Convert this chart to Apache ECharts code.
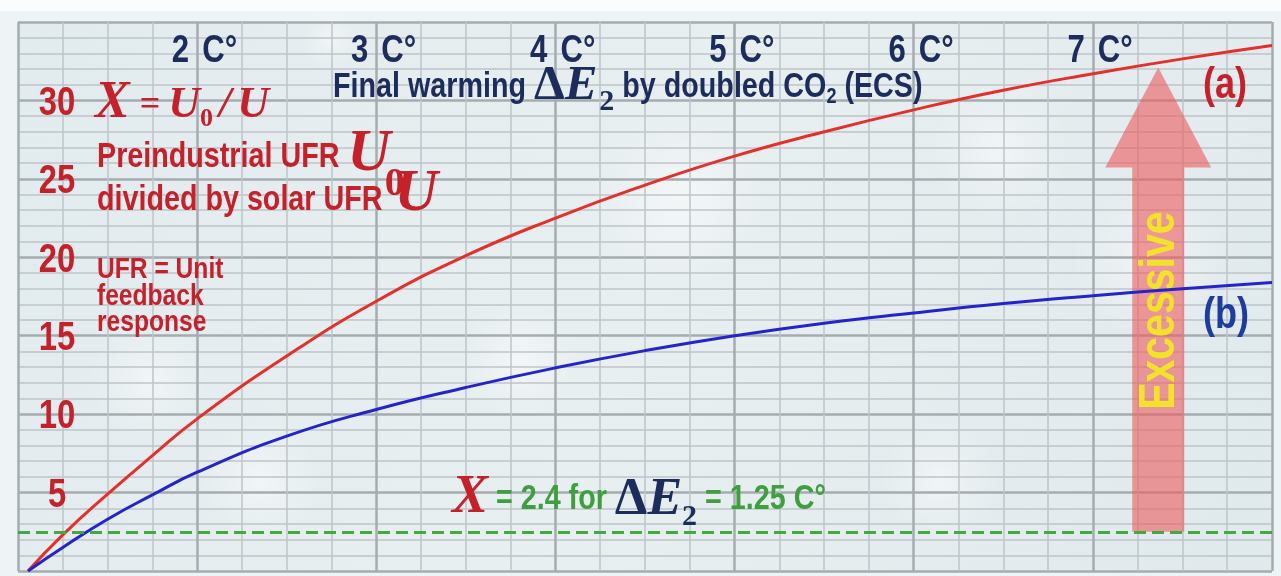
<!DOCTYPE html>
<html><head><meta charset="utf-8">
<script src="https://cdn.jsdelivr.net/npm/echarts@6/dist/echarts.min.js"></script>
<style>html,body{margin:0;padding:0;background:#eef4f5;}#c{width:1281px;height:576px;}</style>
</head><body><div id="c"></div>
<script>
// ---- data ----
const xTicks = [2, 3, 4, 5, 6, 7];          // top tick labels (C°)
const xUnit = 'C°';
const yTicks = [5, 10, 15, 20, 25, 30];     // left tick labels
const ecs = [1.056, 1.25, 1.5, 1.75, 2, 2.5, 3, 3.5, 4, 4.5, 5, 5.5, 6, 6.5, 7, 7.5, 8];
const curveA = [0, 2.3, 4.9, 7.35, 9.7, 13.7, 17.2, 20.1, 22.5, 24.6, 26.45, 28.0, 29.4, 30.65, 31.7, 32.65, 33.5];
const curveB = [0, 1.5, 3.3, 4.85, 6.3, 8.6, 10.3, 11.7, 12.95, 14.05, 15.0, 15.8, 16.45, 17.05, 17.55, 18.0, 18.4];
const thresholdX = 2.5;                      // dashed green line
const arrow = [7.365, 2.5, 32.1];            // x, from, to

const SANS = '"Liberation Sans", Arial, sans-serif';
const SERIF = '"Liberation Serif", "Times New Roman", serif';
const NARROW = 0.82;                          // Arial-Narrow-like squeeze
const RED = '#c4212b', NAVY = '#1c2c5c', GREEN = '#3f9f3f', BLUE = '#1e3c9e';

const mctx = document.createElement('canvas').getContext('2d');
function fontStr(p) { return (p.st || 'normal') + ' ' + (p.w || 'bold') + ' ' + p.f + 'px ' + p.fam; }
function midOff(font) {
  mctx.font = font; mctx.textBaseline = 'middle';
  return mctx.measureText('H').actualBoundingBoxDescent;
}
function textW(font, t) { mctx.font = font; mctx.textBaseline = 'alphabetic'; return mctx.measureText(t).width; }
// one text element whose alphabetic baseline sits at `baseline`
function tEl(x, baseline, t, p, align) {
  const font = fontStr(p);
  return {type: 'text', x: x, y: baseline - midOff(font), scaleX: p.sx || 1, z: 10, silent: true,
    style: {text: t, font: font, fill: p.c, align: align || 'left', verticalAlign: 'middle'}};
}
// a run of differently styled pieces laid out left to right
function run(x, baseline, pieces) {
  const els = [];
  let cx = x;
  pieces.forEach(p => {
    cx += p.l || 0;
    els.push(tEl(cx, baseline + (p.s || 0), p.t, p));
    cx += textW(fontStr(p), p.t) * (p.sx || 1) + (p.r || 0);
  });
  return els;
}
const sans = (t, f, c, o) => Object.assign({t, f, c, fam: SANS, sx: NARROW}, o || {});
const serif = (t, f, c, o) => Object.assign({t, f, c, fam: SERIF}, o || {});

const chart = echarts.init(document.getElementById('c'));

const gridLine = {color: '#a5acb0', width: 2.5};
const minorLine = {color: '#bec5c9', width: 1.5};

const clouds = [[680, 200, 330, 90], [1000, 150, 220, 70], [260, 480, 240, 60], [940, 480, 260, 60], [520, 360, 220, 60], [1150, 260, 160, 80], [150, 380, 140, 60], [330, 40, 200, 30]];

const option = {
  backgroundColor: '#eef4f5',
  animation: false,
  grid: {left: 18, top: 22, right: 9, bottom: 5, show: false},
  xAxis: [
    {type: 'value', min: 1, max: 8, interval: 1, position: 'top',
      axisLine: {show: false}, axisTick: {show: false}, axisLabel: {show: false},
      splitLine: {show: true, lineStyle: gridLine},
      minorTick: {show: false, splitNumber: 4},
      minorSplitLine: {show: true, lineStyle: minorLine}}
  ],
  yAxis: {type: 'value', min: 0, max: 35, interval: 5,
    axisLine: {show: false}, axisTick: {show: false}, axisLabel: {show: false},
    splitLine: {show: true, lineStyle: gridLine},
    minorTick: {show: false, splitNumber: 5},
    minorSplitLine: {show: true, lineStyle: minorLine}},
  series: [
    // top tick labels "2 C°" ... placed through the x scale
    {type: 'custom', z: 4, clip: false, silent: true, data: xTicks.map(v => [v, 35]),
      renderItem: (params, api) => {
        const p = api.coord([api.value(0), api.value(1)]);
        const st = sans('', 38, NAVY);
        return {type: 'group', children: [
          tEl(p[0] - 8, p[1] + 40, String(api.value(0)), st, 'right'),
          tEl(p[0] + 5, p[1] + 40, xUnit, st, 'left')]};
      }},
    // left tick labels placed through the y scale
    {type: 'custom', z: 4, clip: false, silent: true, data: yTicks.map(v => [1, v]),
      renderItem: (params, api) => {
        const p = api.coord([api.value(0), api.value(1)]);
        return tEl(p[0] + 39, p[1] + 14.3, String(api.value(1)), sans('', 40, RED), 'center');
      }},
    {type: 'custom', z: 1, data: [arrow], silent: true,
      renderItem: (params, api) => {
        const b = api.coord([api.value(0), api.value(1)]);
        const t = api.coord([api.value(0), api.value(2)]);
        const cx = t[0], sw = 26, hw = 53, hl = 100;
        const hb = t[1] + hl;
        return {type: 'group', children: [
          {type: 'polygon', shape: {points: [[cx - sw, b[1]], [cx - sw, hb], [cx - hw, hb], [cx, t[1]],
            [cx + hw, hb], [cx + sw, hb], [cx + sw, b[1]]]}, style: {fill: '#ec5c5e', opacity: 0.6}},
          {type: 'text', x: cx + 2, y: b[1] - 0.607 * (b[1] - hb), rotation: Math.PI / 2, scaleX: NARROW,
            style: {text: 'Excessive', fill: '#f3e22b', font: 'bold 50px ' + SANS,
              align: 'center', verticalAlign: 'middle'}}
        ]};
      }},
    {type: 'line', z: 3, data: ecs.map((x, i) => [x, curveA[i]]), smooth: 0.5, showSymbol: false,
      lineStyle: {color: '#e3302b', width: 3},
      markLine: {silent: true, symbol: 'none', label: {show: false},
        lineStyle: {type: [12, 6], color: '#45a845', width: 3}, data: [{yAxis: thresholdX}]}},
    {type: 'line', z: 3, data: ecs.map((x, i) => [x, curveB[i]]), smooth: 0.5, showSymbol: false,
      lineStyle: {color: '#2424c8', width: 3}}
  ],
  graphic: [].concat(
    [{type: 'rect', z: -20, silent: true, shape: {x: 0, y: 0, width: 1281, height: 11}, style: {fill: '#fbfdfd'}},
     {type: 'rect', z: -20, silent: true, shape: {x: 18, y: 22, width: 1254, height: 549},
      style: {fill: {type: 'linear', x: 0, y: 0, x2: 1, y2: 1, colorStops: [
        {offset: 0, color: '#e2ebee'}, {offset: 0.5, color: '#e8eff1'}, {offset: 1, color: '#e0e9ec'}]}}}],
    clouds.map(c => ({type: 'ellipse', z: -15, silent: true, shape: {cx: c[0], cy: c[1], rx: c[2], ry: c[3]},
      style: {fill: {type: 'radial', x: 0.5, y: 0.5, r: 0.5, colorStops: [
        {offset: 0, color: 'rgba(255,255,255,0.45)'}, {offset: 1, color: 'rgba(255,255,255,0)'}]}}})),
    run(333, 97, [sans('Final warming ', 35, NAVY), serif('Δ', 49, NAVY, {s: 2}),
      serif('E', 49, NAVY, {st: 'italic', s: 2}), serif('2', 30, NAVY, {s: 13, l: 2}),
      sans(' by doubled CO', 35, NAVY), sans('2', 22, NAVY, {s: 6}), sans(' (ECS)', 35, NAVY)]),
    run(95, 117, [serif('X', 52, RED, {st: 'italic'}), serif('=', 36, RED, {s: -2, l: 10, r: 8}),
      serif('U', 44, RED, {st: 'italic'}), serif('0', 26, RED, {s: 9}),
      serif('/', 44, RED, {st: 'italic', l: 6, r: 6}), serif('U', 44, RED, {st: 'italic'})]),
    run(97, 167, [sans('Preindustrial UFR ', 35, RED), serif('U', 60, RED, {st: 'italic', s: 3}),
      serif('0', 40, RED, {s: 28, l: -6})]),
    run(97, 210, [sans('divided by solar UFR ', 35, RED), serif('U', 60, RED, {st: 'italic', l: 4})]),
    run(97, 278, [sans('UFR = Unit', 30, RED)]),
    run(97, 305, [sans('feedback', 30, RED)]),
    run(97, 331, [sans('response', 30, RED)]),
    run(1203, 98, [sans('(a)', 44, RED)]),
    run(1203, 328, [sans('(b)', 44, BLUE)]),
    run(452, 509, [serif('X', 54, RED, {st: 'italic', s: 3}), sans(' = 2.4 for ', 35, GREEN),
      serif('Δ', 52, NAVY, {s: 5}), serif('E', 52, NAVY, {st: 'italic', s: 5}),
      serif('2', 30, NAVY, {s: 16}), sans(' = 1.25 C°', 35, GREEN)])
  )
};
chart.setOption(option);
</script></body></html>
